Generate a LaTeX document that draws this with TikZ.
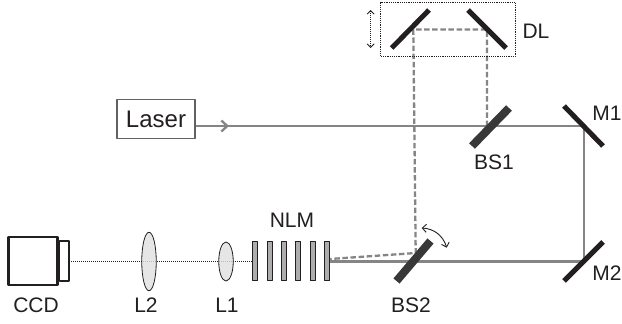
\documentclass[tikz,border=0pt]{standalone}
\usepackage{fontspec}
\setmainfont{Liberation Sans}
\usetikzlibrary{arrows.meta,shapes.geometric}
\definecolor{beamgray}{HTML}{858587}
\definecolor{darkline}{HTML}{231F20}
\begin{document}
\begin{tikzpicture}[
    x=1pt, y=-1pt,
    mirror/.style={line width=5pt, draw=darkline},
    splitter/.style={line width=8pt, draw=black!78},
    beam/.style={line width=2.3pt, draw=beamgray},
    delayed/.style={line width=2.3pt, draw=beamgray, dash pattern=on 5.5pt off 2.6pt},
    probe/.style={line width=1pt, draw=darkline, dash pattern=on 1pt off 1pt},
    lens/.style={ellipse, draw=darkline, fill=black!12, line width=.8pt, inner sep=0pt},
    plate/.style={draw=darkline, fill=black!32, line width=.8pt, minimum width=5pt, minimum height=39pt, inner sep=0pt},
    tag/.style={font=\fontsize{21}{25}\selectfont, text=darkline, inner sep=0pt},
    line join=round]
  \useasboundingbox (0,0) rectangle (622,324);

  % Beam corners
  \coordinate (m1) at (584,126);
  \coordinate (m2) at (584,261.5);
  \coordinate (dl1) at (413.3,29.5);
  \coordinate (dl2) at (487,29.5);
  \coordinate (dl3) at (487,126);
  \coordinate (bs2dash) at (415.7,253);
  \coordinate (focus) at (69,261.5);

  % Nonlinear medium
  \foreach \x [count=\n] in {255,269.4,284,298.2,312.7,327.3}
    \node [plate] (plate\n) at (\x,261) {};

  % Lenses
  \draw [probe] (focus) -- (plate1.west |- focus);
  \node [lens, minimum width=14.5pt, minimum height=58.5pt, fill opacity=.8, draw opacity=1] (lens2) at (149,261.5) {};
  \node [lens, minimum width=14.5pt, minimum height=39pt, fill opacity=.8, draw opacity=1] (lens1) at (226,261.5) {};

  % Laser
  \node [draw=black!62, line width=1.4pt, minimum width=78pt, minimum height=39pt, inner sep=0pt,
    tag, font=\fontsize{24}{28}\selectfont] (laser) at (156,119) {Laser\hspace{6pt}};

  % Beams
  \draw [beam] (laser.east |- m1) -- (m1) -- (m2) -- (plate6.east |- m2);
  \draw [delayed] (dl3) -- (dl2) -- (dl1) -- (bs2dash) -- (plate6.east |- 0,259);
  \draw [beam, -{Straight Barb[length=6pt,width=11pt]}] (laser.east |- m1) -- (229,126);

  % Mirrors
  \draw [mirror] (564,106) -- (603,146);
  \draw [mirror] (603,242) -- (564,281);
  \draw [mirror] (391.7,48) -- (429,10);
  \draw [mirror] (468,10) -- (506,48);

  % Beam splitters
  \draw [splitter] (472,146) -- (509,108);
  \draw [splitter] (396.5,281) -- (430.5,241);

  % Delay line box and its motion
  \node [draw=darkline, line width=1pt, dash pattern=on 1.2pt off 1pt, minimum width=135pt,
    minimum height=53.5pt, inner sep=0pt] (dlbox) at (448.3,29.3) {};
  \coordinate (dlup) at (370.7,10);
  \coordinate (dldown) at (370.7,48);
  \draw [line width=.9pt, darkline, dash pattern=on 1pt off 1pt,
    {Straight Barb[length=3.5pt,width=7pt]}-{Straight Barb[length=3.5pt,width=7pt]}] (dlup) -- (dldown);

  % Rotation of BS2
  \coordinate (rota) at (421.7,228);
  \coordinate (rotb) at (446.7,247.7);
  \draw [line width=.9pt, darkline,
    {Straight Barb[length=4pt,width=8pt]}-{Straight Barb[length=4pt,width=8pt]}]
    (rota) to [bend left=35] (rotb);

  % Camera
  \node [draw=darkline, line width=2.4pt, minimum width=49pt, minimum height=48pt, inner sep=0pt] (ccd) at (33,261) {};
  \node [draw=darkline, line width=1.5pt, minimum width=9.5pt, minimum height=40pt, inner sep=0pt, anchor=west] (ccdfront) at (ccd.east) {};

  % Labels
  \node [tag] (ccdlabel) at (36,305) {CCD};
  \node [tag] (l2label) at (146,305) {L2};
  \node [tag] (l1label) at (227,305) {L1};
  \node [tag] (nlmlabel) at (292,220) {NLM};
  \node [tag] (bs2label) at (411,305) {BS2};
  \node [tag] (bs1label) at (494,162) {BS1};
  \node [tag] (m1label) at (607,113) {M1};
  \node [tag] (m2label) at (607,273) {M2};
  \node [tag] (dllabel) at (536,31) {DL};
\end{tikzpicture}
\end{document}
